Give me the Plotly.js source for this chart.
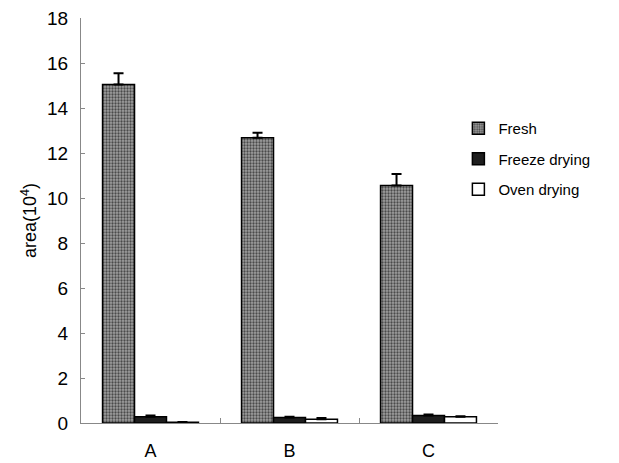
<!DOCTYPE html>
<html>
<head>
<meta charset="utf-8">
<script src="https://cdn.plot.ly/plotly-3.0.1.min.js"></script>
<style>html,body{margin:0;padding:0;background:#fff;}#chart{width:619px;height:463px;}</style>
</head>
<body>
<div id="chart"></div>
<script>
const categories = ["A", "B", "C"];
const seriesNames = ["Fresh", "Freeze drying", "Oven drying"];
const freshValues = [15.05, 12.68, 10.55];
const freshErrors = [0.5, 0.22, 0.52];
const freezeValues = [0.28, 0.25, 0.33];
const freezeErrors = [0.05, 0.03, 0.05];
const ovenValues = [0.03, 0.17, 0.28];
const ovenErrors = [0.01, 0.05, 0.02];
const yTickValues = [0, 2, 4, 6, 8, 10, 12, 14, 16, 18];

const fills = ["#9a9a9a", "#1e1e1e", "#ffffff"];
const patterns = [
  {shape: ".", bgcolor: "#a0a0a0", fgcolor: "#4a4a4a", size: 3, solidity: 0.45},
  {shape: ""},
  {shape: ""}
];
const vals = [freshValues, freezeValues, ovenValues];
const errs = [freshErrors, freezeErrors, ovenErrors];

const traces = seriesNames.map((name, i) => ({
  type: "bar",
  name: name,
  x: categories,
  y: vals[i],
  legendgroup: "g" + i,
  marker: {color: fills[i], line: {color: "#000", width: 1.5}, pattern: patterns[i]},
  error_y: {type: "data", symmetric: false, array: errs[i], arrayminus: errs[i].map(() => 0),
            visible: true, color: "#000", thickness: 2, width: 5}
}));

const layout = {
  width: 619, height: 463,
  margin: {l: 81, r: 121, t: 18, b: 40},
  paper_bgcolor: "#fff", plot_bgcolor: "#fff",
  font: {family: "Liberation Sans, Arial, sans-serif", size: 18, color: "#000"},
  barmode: "group",
  bargap: 0.31,
  bargroupgap: 0,
  showlegend: true,
  legend: {x: 0.905, y: 0.768, xanchor: "left", yanchor: "top", font: {size: 15}, tracegroupgap: 8, bgcolor: "rgba(0,0,0,0)"},
  xaxis: {
    type: "category", range: [-0.5, 2.5],
    showline: true, linecolor: "#888", linewidth: 1,
    ticks: "inside", tickson: "boundaries", ticklen: 5, tickcolor: "#888",
    showgrid: false, zeroline: false,
    tickfont: {size: 18}, ticklabelstandoff: 11
  },
  yaxis: {
    range: [0, 18], tickvals: yTickValues,
    showline: true, linecolor: "#888", linewidth: 1,
    ticks: "inside", ticklen: 4, tickcolor: "#888",
    showgrid: false, zeroline: false,
    tickfont: {size: 19}, ticklabelstandoff: 8,
    title: {text: "area(10<sup>4</sup>)", font: {size: 18}, standoff: 5}
  }
};

Plotly.newPlot("chart", traces, layout, {displayModeBar: false, staticPlot: true});
</script>
</body>
</html>
